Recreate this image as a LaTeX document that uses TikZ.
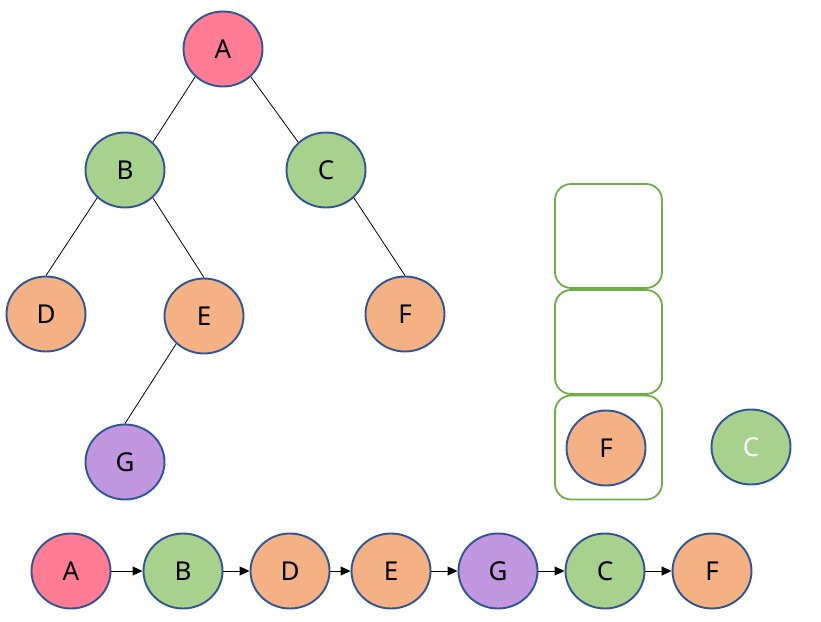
\documentclass[tikz,border=0pt]{standalone}
\usepackage{fontspec}
\setmainfont{Noto Sans}
\usetikzlibrary{shapes.geometric,arrows.meta}
\definecolor{cpink}{HTML}{FF7C94}
\definecolor{cgreen}{HTML}{A9D18E}
\definecolor{corange}{HTML}{F4B183}
\definecolor{cpurple}{HTML}{C197E0}
\definecolor{cborder}{HTML}{2F5597}
\definecolor{cbox}{HTML}{70AD47}
\begin{document}
\begin{tikzpicture}[x=1pt,y=-1pt,
  vert/.style={ellipse,draw=cborder,line width=1.9pt,minimum width=79pt,minimum height=75pt,inner sep=0pt,font=\fontsize{26}{30}\selectfont},
  pk/.style={vert,fill=cpink},
  gr/.style={vert,fill=cgreen},
  orr/.style={vert,fill=corange},
  pu/.style={vert,fill=cpurple},
  stackbox/.style={draw=cbox,line width=1.8pt,rounded corners=16pt,minimum width=107pt,minimum height=104pt,inner sep=0pt},
  tedge/.style={draw=black,line width=0.8pt},
  arr/.style={draw=black,line width=0.9pt,-{Triangle[length=10pt,width=9pt]}}
]
\useasboundingbox (0,0) rectangle (821,621);
% tree
\node[pk] (A) at (223,49) {A};
\node[gr] (B) at (125,170) {B};
\node[gr] (C) at (326,170) {C};
\node[orr] (D) at (46,314) {D};
\node[orr] (E) at (204,316) {E};
\node[orr] (F) at (405,314) {F};
\node[pu] (G) at (125,462) {G};
\draw[tedge] (A.225) -- (B.45);
\draw[tedge] (A.-45) -- (C.135);
\draw[tedge] (B.225) -- (D.north);
\draw[tedge] (B.-45) -- (E.north);
\draw[tedge] (C.-45) -- (F.north);
\draw[tedge] (E.225) -- (G.north);
% stack
\node[stackbox] (s1) at (608.5,236) {};
\node[stackbox] (s2) at (608.5,342) {};
\node[stackbox] (s3) at (608.5,447.5) {};
\node[orr] (sF) at (606,448) {F};
\node[gr,text=white] (sC) at (751,447) {C};
% sequence
\node[pk] (a1) at (71,571) {A};
\node[gr] (a2) at (183,571) {B};
\node[orr] (a3) at (290,571) {D};
\node[orr] (a4) at (391,571) {E};
\node[pu] (a5) at (498,571) {G};
\node[gr] (a6) at (605,571) {C};
\node[orr] (a7) at (712,571) {F};
\draw[arr] (a1) -- (a2);
\draw[arr] (a2) -- (a3);
\draw[arr] (a3) -- (a4);
\draw[arr] (a4) -- (a5);
\draw[arr] (a5) -- (a6);
\draw[arr] (a6) -- (a7);
\end{tikzpicture}
\end{document}
